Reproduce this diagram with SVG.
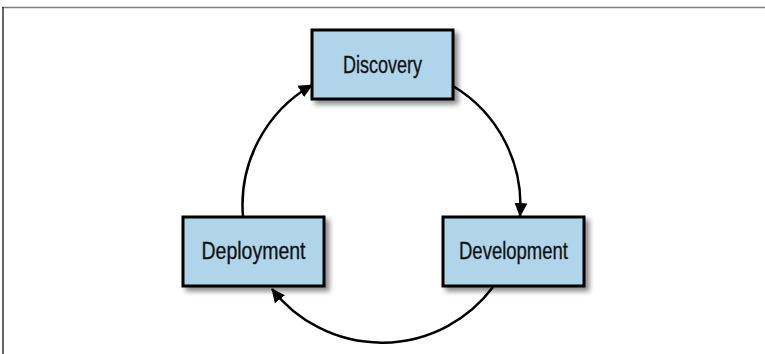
<svg xmlns="http://www.w3.org/2000/svg" width="765" height="354" viewBox="0 0 765 354">
<defs>
<filter id="sh" x="-20%" y="-20%" width="150%" height="160%">
<feDropShadow dx="4" dy="4" stdDeviation="2.5" flood-color="#000" flood-opacity="0.45"/>
</filter>
<marker id="ah" viewBox="0 0 14 14" refX="13" refY="7" markerWidth="14" markerHeight="14" markerUnits="userSpaceOnUse" orient="auto">
<path d="M0,0.5 L14,7 L0,13.5 Z" fill="#000"/>
</marker>
<style>
.box{fill:#b0d4ea;stroke:#000;stroke-width:3;filter:url(#sh)}
.lbl{font-family:"Liberation Sans",Arial,sans-serif;font-size:23px;fill:#111;text-anchor:middle;stroke:#111;stroke-width:0.3}
.arc{fill:none;stroke:#000;stroke-width:2.5;marker-end:url(#ah)}
</style>
</defs>
<rect width="765" height="354" fill="#fff"/>
<line x1="2" y1="7.5" x2="765" y2="7.5" stroke="#808080" stroke-width="1.5"/>
<line x1="3" y1="7" x2="3" y2="354" stroke="#333" stroke-width="1.5"/>
<g id="connectors">
<path class="arc" d="M453,86 A139,139 0 0 1 520,216"/>
<path class="arc" d="M493,287 A139,139 0 0 1 272,289"/>
<path class="arc" d="M243,217 A139,139 0 0 1 312,85"/>
</g>
<g id="discovery">
<rect class="box" x="312" y="30" width="141" height="69"/>
<text class="lbl" x="382.5" y="73" textLength="79" lengthAdjust="spacingAndGlyphs">Discovery</text>
</g>
<g id="deployment">
<rect class="box" x="183" y="217" width="141" height="69"/>
<text class="lbl" x="253.5" y="259" textLength="104" lengthAdjust="spacingAndGlyphs">Deployment</text>
</g>
<g id="development">
<rect class="box" x="443" y="217" width="141" height="69"/>
<text class="lbl" x="513.5" y="259" textLength="109" lengthAdjust="spacingAndGlyphs">Development</text>
</g>
</svg>
